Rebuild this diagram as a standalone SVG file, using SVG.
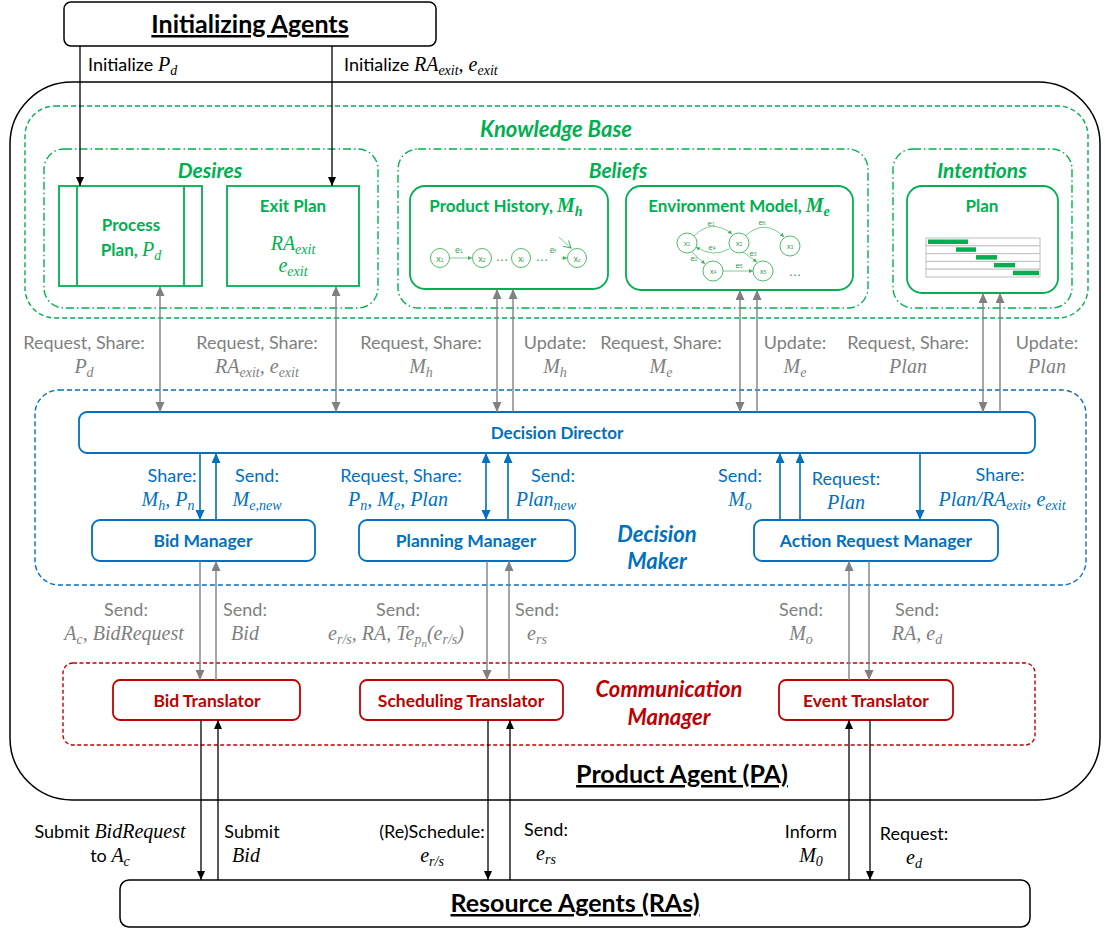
<svg xmlns="http://www.w3.org/2000/svg" width="1105" height="930" viewBox="0 0 1105 930">
<defs>
<style>
text{font-family:Lato,"Open Sans",sans-serif;font-size:18px}
.m{font-family:"Liberation Serif","DejaVu Serif",serif;font-style:italic;font-size:20px}
.s{font-size:14px}
.ss{font-size:11px}
.b{font-weight:bold}
.n{font-weight:bold;font-size:17px}
.bi{font-weight:bold;font-style:italic}
.c{text-anchor:middle}
.g{fill:#00B050}
.bl{fill:#0070C0}
.r{fill:#C00000}
.gr{fill:#7F7F7F}
.k{fill:#000}
.u{text-decoration:underline}
.f17{font-size:17.5px}
.f21{font-size:21px}
.f22{font-size:22px}
.f25{font-size:25px}
.boxk{fill:#fff;stroke:#000;stroke-width:1.5}
.boxg{fill:#fff;stroke:#00B050;stroke-width:1.8}
.boxb{fill:#fff;stroke:#0070C0;stroke-width:1.8}
.boxr{fill:#fff;stroke:#C00000;stroke-width:1.8}
.kb{fill:none;stroke:#00B050;stroke-width:1.4;stroke-dasharray:5 3}
.dd{fill:none;stroke:#00B050;stroke-width:1.4;stroke-dasharray:8 3 1.5 3}
.dm{fill:none;stroke:#0070C0;stroke-width:1.4;stroke-dasharray:5 3}
.cm{fill:none;stroke:#C00000;stroke-width:1.4;stroke-dasharray:4 2.5}
.lk{stroke:#000;stroke-width:1.3;fill:none}
.lg{stroke:#808080;stroke-width:1.4;fill:none}
.lb{stroke:#0070C0;stroke-width:1.6;fill:none}
.mini{fill:#fff;stroke:#3DB35A;stroke-width:0.9}
.mline{stroke:#6FC686;stroke-width:0.9;fill:none}
.mt{font-family:"Liberation Sans",sans-serif;font-size:9px;fill:#3A9A52}
.mt8{font-size:8px}
.mt13{font-size:13px}
.gl{stroke:#BFBFBF;stroke-width:1;fill:#fff}
.bar{fill:#00B050}
</style>
<marker id="ak" markerWidth="10" markerHeight="10" refX="9" refY="4" orient="auto-start-reverse" markerUnits="userSpaceOnUse"><path d="M0,0 L9,4 L0,8z" fill="#000"/></marker>
<marker id="ag" markerWidth="12" markerHeight="12" refX="10" refY="4.5" orient="auto-start-reverse" markerUnits="userSpaceOnUse"><path d="M0,0 L10,4.5 L0,9z" fill="#808080"/></marker>
<marker id="ab" markerWidth="12" markerHeight="12" refX="10" refY="4.5" orient="auto-start-reverse" markerUnits="userSpaceOnUse"><path d="M0,0 L10,4.5 L0,9z" fill="#0070C0"/></marker>
<marker id="am" markerWidth="6" markerHeight="6" refX="4" refY="2" orient="auto" markerUnits="userSpaceOnUse"><path d="M0,0 L4,2 L0,4z" fill="#3DB35A"/></marker>
<marker id="ao" markerWidth="10" markerHeight="10" refX="7" refY="4" orient="auto" markerUnits="userSpaceOnUse"><path d="M0,0 L7,4 L0,8" fill="none" stroke="#3DB35A" stroke-width="1"/></marker>
</defs>

<!-- containers -->
<g id="product-agent">
<rect class="boxk" x="10" y="82" width="1090" height="718" rx="62"/>
<text class="b c k u f25" x="682" y="783">Product Agent (PA)</text>
</g>

<g id="knowledge-base">
<rect class="kb" x="25" y="106" width="1063" height="212" rx="30"/>
<text class="bi c g f22" x="556" y="137">Knowledge Base</text>
</g>

<g id="desires">
<rect class="dd" x="44" y="149" width="334" height="159" rx="20"/>
<text class="bi c g f21" x="210" y="178">Desires</text>
</g>

<g id="beliefs">
<rect class="dd" x="398" y="149" width="470" height="159" rx="20"/>
<text class="bi c g f21" x="618" y="178">Beliefs</text>
</g>

<g id="intentions">
<rect class="dd" x="893" y="149" width="179" height="159" rx="20"/>
<text class="bi c g f21" x="982" y="178">Intentions</text>
</g>

<g id="decision-maker">
<rect class="dm" x="35" y="390" width="1051" height="195" rx="24"/>
<text class="bi c bl f22" x="657" y="542">Decision</text>
<text class="bi c bl f22" x="657" y="569">Maker</text>
</g>

<g id="communication-manager">
<rect class="cm" x="63" y="663" width="972" height="82" rx="10"/>
<text class="bi c r f22" x="669" y="697">Communication</text>
<text class="bi c r f22" x="669" y="725">Manager</text>
</g>

<!-- external agents -->
<g id="initializing-agents">
<rect class="boxk" x="64" y="2" width="372" height="44" rx="7"/>
<text class="b c k u f25" x="250" y="33">Initializing Agents</text>
</g>

<g id="resource-agents">
<rect class="boxk" x="120" y="880" width="910" height="47" rx="9"/>
<text class="b c k u f25" x="575" y="912">Resource Agents (RAs)</text>
</g>

<!-- knowledge base contents -->
<g id="process-plan">
<rect class="boxg" x="59" y="186" width="143" height="100"/>
<line x1="77" y1="186" x2="77" y2="286" stroke="#00B050" stroke-width="1.8"/>
<line x1="184" y1="186" x2="184" y2="286" stroke="#00B050" stroke-width="1.8"/>
<text class="n c g" x="131" y="231">Process</text>
<text class="n c g" x="131" y="256">Plan, <tspan class="m" font-weight="normal">P</tspan><tspan class="m s" font-weight="normal" dy="4">d</tspan></text>
</g>

<g id="exit-plan">
<rect class="boxg" x="227" y="186" width="132" height="100"/>
<text class="n c g" x="293" y="212">Exit Plan</text>
<text class="c g" x="293" y="250"><tspan class="m">RA</tspan><tspan class="m s" dy="4">exit</tspan></text>
<text class="c g" x="293" y="272"><tspan class="m">e</tspan><tspan class="m s" dy="4">exit</tspan></text>
</g>

<g id="product-history">
<rect class="boxg" x="410" y="186" width="198" height="103" rx="15"/>
<text class="n c g" x="506" y="212">Product History, <tspan class="m" font-weight="bold">M</tspan><tspan class="m s" font-weight="bold" dy="4">h</tspan></text>
<line class="mline" x1="450" y1="258" x2="472" y2="258" marker-end="url(#am)"/>
<line class="mline" x1="561" y1="258" x2="567" y2="258" marker-end="url(#am)"/>
<line class="mline" x1="559" y1="237" x2="571" y2="248" marker-end="url(#ao)"/>
<circle class="mini" cx="440" cy="258" r="9.5"/>
<circle class="mini" cx="482" cy="258" r="9.5"/>
<circle class="mini" cx="521" cy="258" r="9.5"/>
<circle class="mini" cx="577" cy="258" r="9.5"/>
<text class="mt c" x="440" y="262">x<tspan font-size="5">1</tspan></text>
<text class="mt c" x="482" y="262">x<tspan font-size="5">2</tspan></text>
<text class="mt c" x="521" y="262">x<tspan font-size="5">i</tspan></text>
<text class="mt c" x="577" y="262">x<tspan font-size="5">c</tspan></text>
<text class="mt c" x="459" y="253">e<tspan font-size="5">1</tspan></text>
<text class="mt c" x="553" y="253">e<tspan font-size="5">f</tspan></text>
<text class="mt c mt13" x="502" y="261">…</text>
<text class="mt c mt13" x="542" y="261">…</text>
</g>

<g id="environment-model">
<rect class="boxg" x="626" y="186" width="227" height="104" rx="15"/>
<text class="n c g" x="739" y="212">Environment Model, <tspan class="m" font-weight="bold">M</tspan><tspan class="m s" font-weight="bold" dy="4">e</tspan></text>
<path class="mline" d="M694,236 Q712,218 732,234" marker-end="url(#am)"/>
<path class="mline" d="M729,249 Q713,258 696,247" marker-end="url(#am)"/>
<path class="mline" d="M745,236 Q765,218 784,237" marker-end="url(#am)"/>
<path class="mline" d="M692,252 L705,264" marker-end="url(#am)"/>
<path class="mline" d="M743,252 L757,262" marker-end="url(#am)"/>
<path class="mline" d="M723,271 L753,271" marker-end="url(#am)"/>
<circle class="mini" cx="687" cy="243" r="10"/>
<circle class="mini" cx="739" cy="243" r="10"/>
<circle class="mini" cx="790" cy="246" r="10"/>
<circle class="mini" cx="713" cy="271" r="10"/>
<circle class="mini" cx="763" cy="271" r="10"/>
<text class="mt c mt8" x="687" y="246">x<tspan font-size="4.5">1</tspan></text>
<text class="mt c mt8" x="739" y="246">x<tspan font-size="4.5">2</tspan></text>
<text class="mt c mt8" x="790" y="249">x<tspan font-size="4.5">3</tspan></text>
<text class="mt c mt8" x="713" y="274">x<tspan font-size="4.5">4</tspan></text>
<text class="mt c mt8" x="763" y="274">x<tspan font-size="4.5">5</tspan></text>
<text class="mt c mt8" x="711" y="226">e<tspan font-size="4.5">1</tspan></text>
<text class="mt c mt8" x="712" y="250">e<tspan font-size="4.5">4</tspan></text>
<text class="mt c mt8" x="762" y="225">e<tspan font-size="4.5">6</tspan></text>
<text class="mt c mt8" x="694" y="261">e<tspan font-size="4.5">2</tspan></text>
<text class="mt c mt8" x="753" y="256">e<tspan font-size="4.5">3</tspan></text>
<text class="mt c mt8" x="739" y="268">e<tspan font-size="4.5">5</tspan></text>
<text class="mt c mt13" x="795" y="276">…</text>
</g>

<g id="plan">
<rect class="boxg" x="907" y="186" width="151" height="107" rx="15"/>
<text class="n c g" x="982" y="212">Plan</text>
<rect class="gl" x="926" y="238" width="114" height="7.8"/>
<rect class="gl" x="926" y="245.8" width="114" height="7.8"/>
<rect class="gl" x="926" y="253.6" width="114" height="7.8"/>
<rect class="gl" x="926" y="261.4" width="114" height="7.8"/>
<rect class="gl" x="926" y="269.2" width="114" height="7.8"/>
<rect class="bar" x="928" y="239.5" width="40" height="4.5"/>
<rect class="bar" x="956" y="247.3" width="20" height="4.5"/>
<rect class="bar" x="976" y="255.1" width="21" height="4.5"/>
<rect class="bar" x="994" y="262.9" width="21" height="4.5"/>
<rect class="bar" x="1013" y="270.7" width="26" height="4.5"/>
</g>

<!-- decision maker components -->
<g id="decision-director">
<rect class="boxb" x="79" y="412" width="956" height="41" rx="8"/>
<text class="n c bl" x="557" y="439">Decision Director</text>
</g>
<g id="bid-manager">
<rect class="boxb" x="92" y="520" width="223" height="41" rx="8"/>
<text class="n c bl f17" x="203" y="547">Bid Manager</text>
</g>
<g id="planning-manager">
<rect class="boxb" x="359" y="520" width="216" height="41" rx="8"/>
<text class="n c bl f17" x="466" y="547">Planning Manager</text>
</g>
<g id="action-request-manager">
<rect class="boxb" x="754" y="520" width="244" height="41" rx="8"/>
<text class="n c bl f17" x="876" y="547">Action Request Manager</text>
</g>

<!-- communication manager components -->
<g id="bid-translator">
<rect class="boxr" x="113" y="680" width="187" height="40" rx="7"/>
<text class="n c r f17" x="207" y="707">Bid Translator</text>
</g>
<g id="scheduling-translator">
<rect class="boxr" x="360" y="680" width="203" height="40" rx="7"/>
<text class="n c r f17" x="461" y="707">Scheduling Translator</text>
</g>
<g id="event-translator">
<rect class="boxr" x="779" y="680" width="174" height="40" rx="7"/>
<text class="n c r f17" x="866" y="707">Event Translator</text>
</g>

<!-- connectors -->
<g id="connectors">
<path class="lk" d="M80 46V186" marker-end="url(#ak)"/>
<path class="lk" d="M332 46V186" marker-end="url(#ak)"/>

<path class="lg" d="M160 286V412" marker-start="url(#ag)" marker-end="url(#ag)"/>
<path class="lg" d="M336 286V412" marker-start="url(#ag)" marker-end="url(#ag)"/>
<path class="lg" d="M497 289V412" marker-start="url(#ag)" marker-end="url(#ag)"/>
<path class="lg" d="M513 412V289" marker-end="url(#ag)"/>
<path class="lg" d="M740 290V412" marker-start="url(#ag)" marker-end="url(#ag)"/>
<path class="lg" d="M757 412V290" marker-end="url(#ag)"/>
<path class="lg" d="M983 293V412" marker-start="url(#ag)" marker-end="url(#ag)"/>
<path class="lg" d="M1000 412V293" marker-end="url(#ag)"/>

<path class="lb" d="M200 453V520" marker-end="url(#ab)"/>
<path class="lb" d="M216 520V453" marker-end="url(#ab)"/>
<path class="lb" d="M486 453V520" marker-start="url(#ab)" marker-end="url(#ab)"/>
<path class="lb" d="M508 520V453" marker-end="url(#ab)"/>
<path class="lb" d="M780 520V453" marker-end="url(#ab)"/>
<path class="lb" d="M800 520V453" marker-end="url(#ab)"/>
<path class="lb" d="M920 453V520" marker-end="url(#ab)"/>

<path class="lg" d="M200 561V680" marker-end="url(#ag)"/>
<path class="lg" d="M216 680V561" marker-end="url(#ag)"/>
<path class="lg" d="M487 561V680" marker-end="url(#ag)"/>
<path class="lg" d="M509 680V561" marker-end="url(#ag)"/>
<path class="lg" d="M849 680V561" marker-end="url(#ag)"/>
<path class="lg" d="M869 561V680" marker-end="url(#ag)"/>

<path class="lk" d="M201 720V880" marker-end="url(#ak)"/>
<path class="lk" d="M218 880V720" marker-end="url(#ak)"/>
<path class="lk" d="M488 720V880" marker-end="url(#ak)"/>
<path class="lk" d="M510 880V720" marker-end="url(#ak)"/>
<path class="lk" d="M849 880V720" marker-end="url(#ak)"/>
<path class="lk" d="M870 720V880" marker-end="url(#ak)"/>
</g>

<!-- connector labels -->
<g id="labels">
<text class="k" x="88" y="71">Initialize <tspan class="m">P</tspan><tspan class="m s" dy="4">d</tspan></text>
<text class="k" x="344" y="71">Initialize <tspan class="m">RA</tspan><tspan class="m s" dy="4">exit</tspan><tspan class="m" dy="-4">, e</tspan><tspan class="m s" dy="4">exit</tspan></text>

<text class="c gr" x="84" y="349">Request, Share:</text>
<text class="c gr" x="84" y="373"><tspan class="m">P</tspan><tspan class="m s" dy="4">d</tspan></text>
<text class="c gr" x="257" y="349">Request, Share:</text>
<text class="c gr" x="257" y="373"><tspan class="m">RA</tspan><tspan class="m s" dy="4">exit</tspan><tspan class="m" dy="-4">, e</tspan><tspan class="m s" dy="4">exit</tspan></text>
<text class="c gr" x="421" y="349">Request, Share:</text>
<text class="c gr" x="421" y="373"><tspan class="m">M</tspan><tspan class="m s" dy="4">h</tspan></text>
<text class="c gr" x="555" y="349">Update:</text>
<text class="c gr" x="555" y="373"><tspan class="m">M</tspan><tspan class="m s" dy="4">h</tspan></text>
<text class="c gr" x="661" y="349">Request, Share:</text>
<text class="c gr" x="661" y="373"><tspan class="m">M</tspan><tspan class="m s" dy="4">e</tspan></text>
<text class="c gr" x="795" y="349">Update:</text>
<text class="c gr" x="795" y="373"><tspan class="m">M</tspan><tspan class="m s" dy="4">e</tspan></text>
<text class="c gr" x="908" y="349">Request, Share:</text>
<text class="c gr" x="908" y="373"><tspan class="m">Plan</tspan></text>
<text class="c gr" x="1047" y="349">Update:</text>
<text class="c gr" x="1047" y="373"><tspan class="m">Plan</tspan></text>

<text class="c bl" x="172" y="482">Share:</text>
<text class="c bl" x="168" y="506"><tspan class="m">M</tspan><tspan class="m s" dy="4">h</tspan><tspan class="m" dy="-4">, P</tspan><tspan class="m s" dy="4">n</tspan></text>
<text class="c bl" x="257" y="482">Send:</text>
<text class="c bl" x="257" y="506"><tspan class="m">M</tspan><tspan class="m s" dy="4">e,new</tspan></text>
<text class="c bl" x="401" y="482">Request, Share:</text>
<text class="c bl" x="398" y="506"><tspan class="m">P</tspan><tspan class="m s" dy="4">n</tspan><tspan class="m" dy="-4">, M</tspan><tspan class="m s" dy="4">e</tspan><tspan class="m" dy="-4">, Plan</tspan></text>
<text class="c bl" x="553" y="482">Send:</text>
<text class="c bl" x="546" y="506"><tspan class="m">Plan</tspan><tspan class="m s" dy="4">new</tspan></text>
<text class="c bl" x="740" y="482">Send:</text>
<text class="c bl" x="740" y="506"><tspan class="m">M</tspan><tspan class="m s" dy="4">o</tspan></text>
<text class="c bl" x="846" y="485">Request:</text>
<text class="c bl" x="846" y="509"><tspan class="m">Plan</tspan></text>
<text class="c bl" x="1000" y="481">Share:</text>
<text class="c bl" x="1002" y="506"><tspan class="m">Plan/RA</tspan><tspan class="m s" dy="4">exit</tspan><tspan class="m" dy="-4">, e</tspan><tspan class="m s" dy="4">exit</tspan></text>

<text class="c gr" x="126" y="616">Send:</text>
<text class="c gr" x="124" y="640"><tspan class="m">A</tspan><tspan class="m s" dy="4">c</tspan><tspan class="m" dy="-4">, BidRequest</tspan></text>
<text class="c gr" x="245" y="616">Send:</text>
<text class="c gr" x="245" y="640"><tspan class="m">Bid</tspan></text>
<text class="c gr" x="398" y="616">Send:</text>
<text class="c gr" x="396" y="640"><tspan class="m">e</tspan><tspan class="m s" dy="4">r/s</tspan><tspan class="m" dy="-4">, RA, Te</tspan><tspan class="m s" dy="4">p</tspan><tspan class="m ss" dy="3">n</tspan><tspan class="m" dy="-7">(e</tspan><tspan class="m s" dy="4">r/s</tspan><tspan class="m" dy="-4">)</tspan></text>
<text class="c gr" x="537" y="616">Send:</text>
<text class="c gr" x="537" y="640"><tspan class="m">e</tspan><tspan class="m s" dy="4">rs</tspan></text>
<text class="c gr" x="801" y="616">Send:</text>
<text class="c gr" x="801" y="640"><tspan class="m">M</tspan><tspan class="m s" dy="4">o</tspan></text>
<text class="c gr" x="917" y="616">Send:</text>
<text class="c gr" x="917" y="640"><tspan class="m">RA, e</tspan><tspan class="m s" dy="4">d</tspan></text>

<text class="c k" x="110" y="838">Submit <tspan class="m">BidRequest</tspan></text>
<text class="c k" x="110" y="862">to <tspan class="m">A</tspan><tspan class="m s" dy="4">c</tspan></text>
<text class="c k" x="252" y="838">Submit</text>
<text class="c k" x="246" y="862"><tspan class="m">Bid</tspan></text>
<text class="c k" x="432" y="838">(Re)Schedule:</text>
<text class="c k" x="432" y="862"><tspan class="m">e</tspan><tspan class="m s" dy="4">r/s</tspan></text>
<text class="c k" x="546" y="836">Send:</text>
<text class="c k" x="546" y="860"><tspan class="m">e</tspan><tspan class="m s" dy="4">rs</tspan></text>
<text class="c k" x="811" y="838">Inform</text>
<text class="c k" x="811" y="862"><tspan class="m">M</tspan><tspan class="m s" dy="4">0</tspan></text>
<text class="c k" x="914" y="840">Request:</text>
<text class="c k" x="914" y="864"><tspan class="m">e</tspan><tspan class="m s" dy="4">d</tspan></text>
</g>
</svg>
